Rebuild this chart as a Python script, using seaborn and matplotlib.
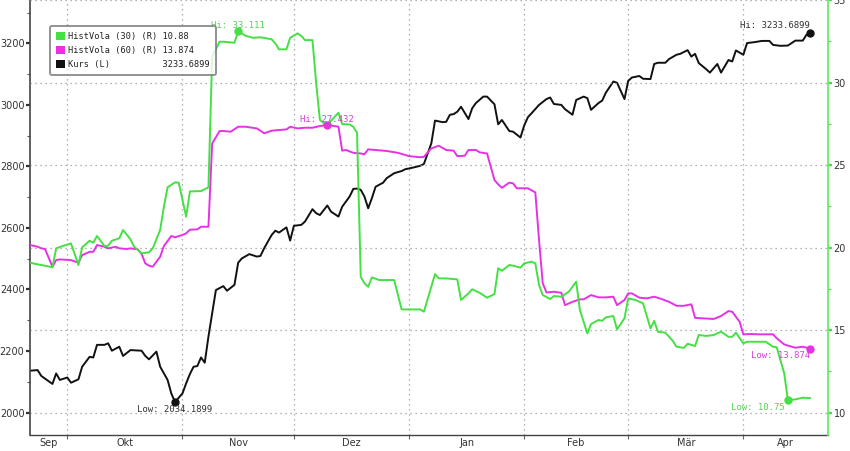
import pandas as pd
import matplotlib
matplotlib.use('Agg')
import matplotlib.pyplot as plt
import matplotlib.dates as mdates
from matplotlib.ticker import FixedLocator, FixedFormatter, NullFormatter, MultipleLocator
from matplotlib.patches import Patch
import seaborn as sns

# Kurs (linke Achse)
kurs_dates = ['2012-09-21', '2012-09-23', '2012-09-24', '2012-09-27', '2012-09-28', '2012-09-29',
              '2012-10-01', '2012-10-02', '2012-10-04', '2012-10-05', '2012-10-07', '2012-10-08',
              '2012-10-09', '2012-10-11', '2012-10-12', '2012-10-13', '2012-10-15', '2012-10-16',
              '2012-10-18', '2012-10-21', '2012-10-22', '2012-10-23', '2012-10-25', '2012-10-26',
              '2012-10-28', '2012-10-29', '2012-10-30', '2012-11-01', '2012-11-02', '2012-11-03',
              '2012-11-04', '2012-11-05', '2012-11-06', '2012-11-07', '2012-11-08', '2012-11-09',
              '2012-11-10', '2012-11-12', '2012-11-13', '2012-11-15', '2012-11-16', '2012-11-17',
              '2012-11-19', '2012-11-21', '2012-11-22', '2012-11-23', '2012-11-25', '2012-11-26',
              '2012-11-27', '2012-11-29', '2012-11-30', '2012-12-01', '2012-12-03', '2012-12-04',
              '2012-12-06', '2012-12-07', '2012-12-08', '2012-12-10', '2012-12-11', '2012-12-13',
              '2012-12-14', '2012-12-16', '2012-12-17', '2012-12-18', '2012-12-19', '2012-12-20',
              '2012-12-21', '2012-12-22', '2012-12-23', '2012-12-25', '2012-12-26', '2012-12-28',
              '2012-12-30', '2012-12-31', '2013-01-02', '2013-01-04', '2013-01-05', '2013-01-07',
              '2013-01-08', '2013-01-10', '2013-01-11', '2013-01-12', '2013-01-13', '2013-01-14',
              '2013-01-15', '2013-01-17', '2013-01-18', '2013-01-19', '2013-01-21', '2013-01-22',
              '2013-01-24', '2013-01-25', '2013-01-26', '2013-01-28', '2013-01-29', '2013-01-31',
              '2013-02-01', '2013-02-02', '2013-02-03', '2013-02-05', '2013-02-07', '2013-02-08',
              '2013-02-09', '2013-02-11', '2013-02-12', '2013-02-14', '2013-02-15', '2013-02-17',
              '2013-02-18', '2013-02-19', '2013-02-21', '2013-02-22', '2013-02-23', '2013-02-25',
              '2013-02-26', '2013-02-28', '2013-03-01', '2013-03-02', '2013-03-04', '2013-03-05',
              '2013-03-07', '2013-03-08', '2013-03-09', '2013-03-11', '2013-03-12', '2013-03-14',
              '2013-03-15', '2013-03-17', '2013-03-18', '2013-03-19', '2013-03-20', '2013-03-22',
              '2013-03-23', '2013-03-25', '2013-03-26', '2013-03-28', '2013-03-29', '2013-03-30',
              '2013-04-01', '2013-04-02', '2013-04-04', '2013-04-06', '2013-04-08', '2013-04-09',
              '2013-04-11', '2013-04-13', '2013-04-14', '2013-04-15', '2013-04-17', '2013-04-18',
              '2013-04-19']
kurs_values = [2136, 2138, 2119, 2093, 2127, 2106,
               2114, 2097, 2108, 2149, 2181, 2179,
               2220, 2220, 2225, 2201, 2214, 2184,
               2203, 2201, 2184, 2173, 2198, 2149,
               2106, 2062, 2034.1899, 2062, 2095, 2125,
               2149, 2151, 2179, 2162, 2247, 2323,
               2398, 2411, 2396, 2415, 2487, 2501,
               2515, 2507, 2509, 2534, 2577, 2591,
               2585, 2602, 2559, 2607, 2610, 2621,
               2661, 2648, 2642, 2673, 2653, 2637,
               2669, 2702, 2727, 2728, 2724, 2702,
               2664, 2697, 2734, 2747, 2762, 2778,
               2785, 2791, 2796, 2802, 2808, 2875,
               2949, 2944, 2945, 2968, 2970, 2978,
               2994, 2954, 2989, 3006, 3027, 3027,
               3002, 2937, 2951, 2915, 2913, 2894,
               2933, 2960, 2973, 3000, 3019, 3024,
               3003, 3000, 2986, 2968, 3016, 3027,
               3022, 2984, 3006, 3014, 3040, 3076,
               3072, 3019, 3078, 3089, 3094, 3085,
               3084, 3133, 3137, 3137, 3149, 3163,
               3166, 3178, 3157, 3166, 3136, 3116,
               3105, 3133, 3105, 3146, 3141, 3177,
               3163, 3201, 3204, 3208, 3208, 3195,
               3192, 3193, 3201, 3209, 3209, 3228,
               3233.6899]

# HistVola (30) (rechte Achse)
hv30_dates = ['2012-09-21', '2012-09-23', '2012-09-25', '2012-09-27', '2012-09-28', '2012-09-30',
              '2012-10-02', '2012-10-04', '2012-10-05', '2012-10-07', '2012-10-08', '2012-10-09',
              '2012-10-11', '2012-10-12', '2012-10-13', '2012-10-15', '2012-10-16', '2012-10-18',
              '2012-10-19', '2012-10-21', '2012-10-23', '2012-10-24', '2012-10-26', '2012-10-27',
              '2012-10-28', '2012-10-30', '2012-10-31', '2012-11-02', '2012-11-03', '2012-11-06',
              '2012-11-08', '2012-11-09', '2012-11-11', '2012-11-12', '2012-11-15', '2012-11-16',
              '2012-11-18', '2012-11-20', '2012-11-22', '2012-11-25', '2012-11-26', '2012-11-27',
              '2012-11-29', '2012-11-30', '2012-12-02', '2012-12-03', '2012-12-04', '2012-12-06',
              '2012-12-07', '2012-12-08', '2012-12-10', '2012-12-11', '2012-12-13', '2012-12-14',
              '2012-12-16', '2012-12-17', '2012-12-18', '2012-12-19', '2012-12-20', '2012-12-21',
              '2012-12-22', '2012-12-24', '2012-12-26', '2012-12-28', '2012-12-30', '2013-01-01',
              '2013-01-04', '2013-01-05', '2013-01-08', '2013-01-09', '2013-01-11', '2013-01-14',
              '2013-01-15', '2013-01-17', '2013-01-18', '2013-01-20', '2013-01-22', '2013-01-24',
              '2013-01-25', '2013-01-26', '2013-01-28', '2013-01-29', '2013-01-31', '2013-02-01',
              '2013-02-03', '2013-02-04', '2013-02-05', '2013-02-06', '2013-02-08', '2013-02-09',
              '2013-02-11', '2013-02-13', '2013-02-15', '2013-02-16', '2013-02-18', '2013-02-19',
              '2013-02-21', '2013-02-22', '2013-02-23', '2013-02-25', '2013-02-26', '2013-02-28',
              '2013-03-01', '2013-03-03', '2013-03-05', '2013-03-07', '2013-03-08', '2013-03-09',
              '2013-03-11', '2013-03-13', '2013-03-14', '2013-03-16', '2013-03-17', '2013-03-19',
              '2013-03-20', '2013-03-22', '2013-03-24', '2013-03-26', '2013-03-28', '2013-03-29',
              '2013-03-30', '2013-04-01', '2013-04-02', '2013-04-05', '2013-04-07', '2013-04-09',
              '2013-04-10', '2013-04-12', '2013-04-13', '2013-04-15', '2013-04-17', '2013-04-19']
hv30_values = [19.08, 18.98, 18.90, 18.80, 19.95, 20.11,
               20.25, 18.94, 20.01, 20.41, 20.29, 20.70,
               20.09, 20.11, 20.41, 20.56, 21.06, 20.50,
               20.05, 19.65, 19.71, 19.95, 21.06, 22.47,
               23.65, 23.95, 23.93, 21.87, 23.40, 23.42,
               23.65, 31.56, 32.47, 32.47, 32.41, 33.111,
               32.83, 32.71, 32.74, 32.62, 32.37, 32.01,
               32.01, 32.71, 32.98, 32.82, 32.57, 32.57,
               29.95, 27.73, 27.36, 27.68, 28.17, 27.48,
               27.46, 27.32, 26.96, 18.23, 17.83, 17.62,
               18.19, 18.03, 18.03, 18.03, 16.25, 16.25,
               16.25, 16.11, 18.39, 18.13, 18.13, 18.07,
               16.82, 17.22, 17.47, 17.26, 16.96, 17.18,
               18.74, 18.59, 18.94, 18.90, 18.78, 19.04,
               19.14, 19.04, 17.73, 17.12, 16.88, 17.06,
               17.02, 17.32, 17.93, 16.21, 14.80, 15.36,
               15.61, 15.56, 15.77, 15.85, 15.04, 15.71,
               16.92, 16.82, 16.62, 15.10, 15.56, 14.90,
               14.84, 14.35, 13.99, 13.92, 14.17, 14.03,
               14.70, 14.64, 14.70, 14.90, 14.59, 14.59,
               14.84, 14.19, 14.29, 14.29, 14.29, 13.99,
               13.95, 12.38, 10.75, 10.80, 10.90, 10.88]

# HistVola (60) (rechte Achse)
hv60_dates = ['2012-09-21', '2012-09-23', '2012-09-24', '2012-09-25', '2012-09-27', '2012-09-28',
              '2012-09-29', '2012-10-02', '2012-10-04', '2012-10-05', '2012-10-07', '2012-10-08',
              '2012-10-09', '2012-10-11', '2012-10-12', '2012-10-14', '2012-10-15', '2012-10-17',
              '2012-10-18', '2012-10-20', '2012-10-21', '2012-10-22', '2012-10-23', '2012-10-24',
              '2012-10-26', '2012-10-27', '2012-10-29', '2012-10-30', '2012-11-01', '2012-11-02',
              '2012-11-03', '2012-11-05', '2012-11-06', '2012-11-08', '2012-11-09', '2012-11-11',
              '2012-11-12', '2012-11-14', '2012-11-16', '2012-11-18', '2012-11-21', '2012-11-22',
              '2012-11-23', '2012-11-25', '2012-11-27', '2012-11-29', '2012-11-30', '2012-12-02',
              '2012-12-04', '2012-12-06', '2012-12-08', '2012-12-10', '2012-12-13', '2012-12-14',
              '2012-12-15', '2012-12-17', '2012-12-19', '2012-12-20', '2012-12-21', '2012-12-23',
              '2012-12-26', '2012-12-29', '2013-01-01', '2013-01-04', '2013-01-05', '2013-01-07',
              '2013-01-09', '2013-01-11', '2013-01-13', '2013-01-14', '2013-01-16', '2013-01-17',
              '2013-01-19', '2013-01-20', '2013-01-22', '2013-01-24', '2013-01-25', '2013-01-26',
              '2013-01-28', '2013-01-29', '2013-01-30', '2013-02-02', '2013-02-04', '2013-02-05',
              '2013-02-06', '2013-02-07', '2013-02-09', '2013-02-11', '2013-02-12', '2013-02-14',
              '2013-02-16', '2013-02-17', '2013-02-19', '2013-02-21', '2013-02-23', '2013-02-25',
              '2013-02-26', '2013-02-28', '2013-03-01', '2013-03-02', '2013-03-04', '2013-03-06',
              '2013-03-08', '2013-03-10', '2013-03-12', '2013-03-14', '2013-03-16', '2013-03-18',
              '2013-03-19', '2013-03-21', '2013-03-24', '2013-03-26', '2013-03-28', '2013-03-29',
              '2013-03-31', '2013-04-01', '2013-04-03', '2013-04-05', '2013-04-09', '2013-04-10',
              '2013-04-12', '2013-04-14', '2013-04-15', '2013-04-17', '2013-04-19']
hv60_values = [20.15, 20.05, 19.95, 19.91, 18.84, 19.24,
               19.28, 19.24, 19.08, 19.54, 19.74, 19.74,
               20.15, 20.05, 19.95, 20.05, 19.95, 19.91,
               19.95, 19.89, 19.61, 19.04, 18.90, 18.84,
               19.44, 20.09, 20.70, 20.62, 20.76, 20.86,
               21.08, 21.10, 21.26, 21.26, 26.30, 27.06,
               27.06, 27.02, 27.32, 27.32, 27.22, 27.08,
               26.92, 27.08, 27.12, 27.16, 27.32, 27.22,
               27.26, 27.26, 27.36, 27.432, 27.32, 25.87,
               25.91, 25.74, 25.70, 25.65, 25.95, 25.91,
               25.85, 25.74, 25.54, 25.47, 25.50, 26.01,
               26.17, 25.91, 25.87, 25.54, 25.56, 25.91,
               25.91, 25.77, 25.70, 24.09, 23.83, 23.62,
               23.93, 23.89, 23.59, 23.59, 23.34, 20.45,
               17.83, 17.28, 17.32, 17.26, 16.51, 16.71,
               16.86, 16.86, 17.12, 16.98, 16.98, 17.02,
               16.51, 16.82, 17.22, 17.22, 16.96, 16.92,
               17.02, 16.88, 16.71, 16.47, 16.47, 16.56,
               15.74, 15.71, 15.67, 15.85, 16.15, 16.11,
               15.50, 14.74, 14.76, 14.74, 14.74, 14.50,
               14.13, 13.99, 13.93, 13.99, 13.874]

month_labels = ['Sep', 'Okt', 'Nov', 'Dez', 'Jan', 'Feb', 'Mär', 'Apr']
series_names = ['HistVola (30) (R)', 'HistVola (60) (R)', 'Kurs (L)']

green = '#44e044'
magenta = '#e632e6'
black = '#111111'
green_text = '#55d055'
magenta_text = '#d940d9'

kurs = pd.DataFrame({'Datum': pd.to_datetime(kurs_dates), 'Wert': kurs_values})
hv30 = pd.DataFrame({'Datum': pd.to_datetime(hv30_dates), 'Wert': hv30_values})
hv60 = pd.DataFrame({'Datum': pd.to_datetime(hv60_dates), 'Wert': hv60_values})

sns.set_theme(style='white')
plt.rcParams['font.family'] = ['DejaVu Sans']
mono = ['DejaVu Sans Mono']

fig = plt.figure(figsize=(8.5, 4.51), dpi=100)
ax = fig.add_axes([30 / 850, 1 - 435 / 451, 798 / 850, 435 / 451])
ax2 = ax.twinx()

sns.lineplot(data=kurs, x='Datum', y='Wert', ax=ax, color=black, linewidth=1.4)
sns.lineplot(data=hv60, x='Datum', y='Wert', ax=ax2, color=magenta, linewidth=1.4)
sns.lineplot(data=hv30, x='Datum', y='Wert', ax=ax2, color=green, linewidth=1.4)

xmin = pd.Timestamp('2012-09-20 23:00')
xmax = pd.Timestamp('2013-04-23 19:00')
ax.set_xlim(xmin, xmax)
ax.set_ylim(1927, 3341)
ax2.set_ylim(8.64, 35.0)
for a in (ax, ax2):
    a.set_xlabel('')
    a.set_ylabel('')

# month boundaries (ticks + grid) and centered month labels
month_starts = pd.date_range('2012-09-01', '2013-05-01', freq='MS')
bounds = [m for m in month_starts if xmin < m < xmax]
mids = []
for a, b in zip(month_starts[:-1], month_starts[1:]):
    lo, hi = max(a, xmin), min(b, xmax)
    mids.append(lo + (hi - lo) / 2)
ax.xaxis.set_major_locator(FixedLocator(mdates.date2num(bounds)))
ax.xaxis.set_major_formatter(NullFormatter())
ax.xaxis.set_minor_locator(FixedLocator(mdates.date2num(mids)))
ax.xaxis.set_minor_formatter(FixedFormatter(month_labels))

ax.yaxis.set_major_locator(MultipleLocator(200))
ax.yaxis.set_minor_locator(MultipleLocator(100))
ax2.yaxis.set_major_locator(MultipleLocator(5))
ax2.yaxis.set_minor_locator(MultipleLocator(2.5))

grid_kw = dict(color='#9a9a9a', linestyle=(0, (1, 3)), linewidth=0.9)
ax.grid(True, axis='x', which='major', **grid_kw)
ax.grid(False, axis='y')
ax2.grid(True, axis='y', which='major', **grid_kw)

ax.tick_params(axis='y', which='major', direction='out', length=3, width=1.6, color='#333333',
               labelsize=7, labelcolor='#333333', pad=1, left=True)
ax.tick_params(axis='y', which='minor', direction='out', length=2, width=0.8, color='#555555', left=True)
ax.tick_params(axis='x', which='major', direction='out', length=3, width=0.8, color='#666666', bottom=True)
ax.tick_params(axis='x', which='minor', length=0, labelsize=7, labelcolor='#333333', pad=2)
ax2.tick_params(axis='y', which='major', direction='out', length=3, width=1.6, color=green,
                labelsize=7, labelcolor='#333333', pad=1, right=True)
ax2.tick_params(axis='y', which='minor', direction='out', length=2, width=0.8, color=green, right=True)

for s in ('top', 'right'):
    ax.spines[s].set_visible(False)
ax.spines['left'].set_color('#444444')
ax.spines['left'].set_linewidth(1.2)
ax.spines['bottom'].set_color('#444444')
ax.spines['bottom'].set_linewidth(1.0)
for s in ('top', 'left', 'bottom'):
    ax2.spines[s].set_visible(False)
ax2.spines['right'].set_color('#66ee66')
ax2.spines['right'].set_linewidth(1.3)


def mark(axis, df, idx, label, color, tcolor, ha, va, dx, dy):
    row = df.loc[idx]
    axis.plot(row['Datum'], row['Wert'], 'o', color=color, markersize=5, zorder=5)
    axis.annotate(f"{label}: {row['Wert']}", (row['Datum'], row['Wert']), xytext=(dx, dy),
                  textcoords='offset points', ha=ha, va=va, color=tcolor, fontsize=6.5,
                  family=mono, zorder=6)


mark(ax2, hv30, hv30['Wert'].idxmax(), 'Hi', green, green_text, 'center', 'bottom', 0, 1)
mark(ax2, hv30, hv30['Wert'].idxmin(), 'Low', green, green_text, 'right', 'top', -2, -2)
mark(ax2, hv60, hv60['Wert'].idxmax(), 'Hi', magenta, magenta_text, 'center', 'bottom', 0, 1)
mark(ax2, hv60, hv60['Wert'].idxmin(), 'Low', magenta, magenta_text, 'right', 'top', 0, -2)
mark(ax, kurs, kurs['Wert'].idxmin(), 'Low', black, '#333333', 'center', 'top', 0, -2)
mark(ax, kurs, kurs['Wert'].idxmax(), 'Hi', black, '#333333', 'right', 'bottom', 0, 2)

# legend with last values
last_values = [hv30['Wert'].iloc[-1], hv60['Wert'].iloc[-1], kurs['Wert'].iloc[-1]]
handles = [Patch(facecolor=c, edgecolor='none') for c in (green, magenta, black)]
labels = [f"{n:<18}{v}" for n, v in zip(series_names, last_values)]
leg = ax2.legend(handles, labels, loc='upper left', bbox_to_anchor=(0.025, 0.94),
                 borderaxespad=0, prop={'family': mono, 'size': 6.2}, handlelength=1.1,
                 handleheight=1.1, handletextpad=0.3, labelspacing=0.55, borderpad=0.7,
                 frameon=True, fancybox=True)
leg.get_frame().set_edgecolor('#777777')
leg.get_frame().set_linewidth(1.4)
leg.set_zorder(10)
for t in leg.get_texts():
    t.set_color('#222222')

fig.savefig('out.png', dpi=100)
